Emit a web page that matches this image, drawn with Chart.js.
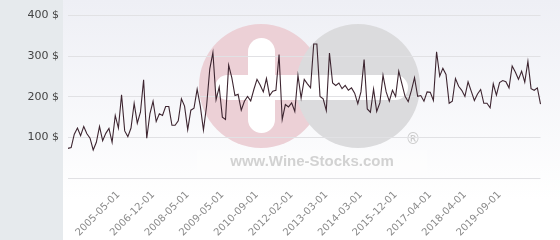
<!DOCTYPE html>
<html>
<head>
<meta charset="utf-8">
<script src="https://cdn.jsdelivr.net/npm/chart.js@4"></script>
<style>
  body { margin: 0; background: #fff; }
  canvas { display: block; }
</style>
</head>
<body>
<canvas id="pricecanvas" width="560" height="240"></canvas>
<script>
// prices in $, one per quote
var prices = [
	73, 75, 108, 123, 104, 127, 109, 98, 69, 88,
	127, 92, 110, 122, 88, 154, 123, 205, 116, 102,
	123, 184, 135, 162, 242, 98, 158, 189, 139, 158,
	154, 176, 176, 130, 130, 141, 195, 177, 119, 167,
	172, 219, 177, 118, 178, 268, 309, 193, 224, 150,
	144, 278, 247, 203, 206, 167, 189, 201, 190, 218,
	243, 229, 212, 245, 203, 214, 216, 304, 144, 181,
	175, 185, 164, 253, 197, 243, 232, 222, 330, 330,
	201, 195, 166, 308, 234, 228, 234, 220, 228, 216,
	222, 209, 183, 212, 292, 170, 162, 219, 164, 185,
	253, 212, 189, 216, 201, 263, 232, 201, 188, 215,
	247, 201, 203, 189, 212, 211, 191, 311, 251, 270,
	255, 184, 189, 245, 226, 216, 201, 237, 214, 191,
	207, 218, 184, 184, 173, 232, 204, 235, 240, 237,
	222, 276, 261, 243, 263, 236, 287, 220, 216, 222,
	182
];

// dates shown on the x axis and the quote they sit under
var tickDates = ['2005-05-01', '2006-12-01', '2008-05-01', '2009-05-01', '2010-09-01', '2012-02-01',
	'2013-03-01', '2014-03-01', '2015-12-01', '2017-04-01', '2018-04-01', '2019-09-01'];
var tickAt = [16, 27, 38, 49, 60, 71, 82, 93, 104, 115, 126, 137];

var yTicks = [0, 100, 200, 300, 400];

var labels = prices.map(function (p, i) {
	var k = tickAt.indexOf(i);
	return k >= 0 ? tickDates[k] : '';
});

// background panel + watermark
var backdrop = {
	id: 'backdrop',
	beforeDraw: function (chart) {
		var ctx = chart.ctx;
		ctx.save();
		var g = ctx.createLinearGradient(0, 0, 0, 200);
		g.addColorStop(0, '#eeeff5');
		g.addColorStop(1, '#ffffff');
		ctx.fillStyle = g;
		ctx.fillRect(63, 0, 497, 240);
		ctx.fillStyle = '#e6eaed';
		ctx.fillRect(0, 0, 63, 240);

		function pill(x, y, w, h) {
			var r = Math.min(w, h) / 2;
			ctx.beginPath();
			ctx.moveTo(x + r, y);
			ctx.arcTo(x + w, y, x + w, y + h, r);
			ctx.arcTo(x + w, y + h, x, y + h, r);
			ctx.arcTo(x, y + h, x, y, r);
			ctx.arcTo(x, y, x + w, y, r);
			ctx.closePath();
			ctx.fill();
		}
		ctx.fillStyle = '#ecd0d6';
		ctx.beginPath(); ctx.arc(261, 86, 62, 0, Math.PI * 2); ctx.fill();
		ctx.fillStyle = '#dbdbdd';
		ctx.beginPath(); ctx.arc(358, 86, 62, 0, Math.PI * 2); ctx.fill();
		ctx.fillStyle = '#ffffff';
		pill(248, 38, 27, 95);
		pill(215, 75, 193, 25);

		ctx.fillStyle = 'rgba(255,255,255,0.3)';
		ctx.fillRect(197, 150, 230, 29);
		ctx.fillStyle = '#d2d2d2';
		ctx.font = 'bold 15px "Liberation Sans", Arial, sans-serif';
		ctx.textAlign = 'center';
		ctx.textBaseline = 'alphabetic';
		ctx.fillText('www.Wine-Stocks.com', 312, 166);
		ctx.font = '15px "DejaVu Sans", sans-serif';
		ctx.fillStyle = '#cbcbcb';
		ctx.fillText('\u00AE', 413, 144);
		ctx.restore();
	}
};

Chart.defaults.font.family = '"DejaVu Sans", sans-serif';

window.onload = function () {
	var ctx = document.getElementById('pricecanvas').getContext('2d');
	window.priceChart = new Chart(ctx, {
		type: 'line',
		data: {
			labels: labels,
			datasets: [{
				label: 'Price',
				data: prices,
				borderColor: '#3d2530',
				borderWidth: 1.1,
				pointRadius: 0,
				tension: 0,
				fill: false
			}]
		},
		options: {
			responsive: false,
			animation: false,
			layout: { padding: { top: 6, right: 5, left: 0, bottom: 0 } },
			plugins: {
				legend: { display: false },
				tooltip: { enabled: false }
			},
			scales: {
				x: {
					offset: false,
					grid: { display: false, drawTicks: false },
					border: { display: false },
					ticks: {
						autoSkip: false,
						minRotation: 45,
						maxRotation: 45,
						padding: 11,
						color: '#8a8a8a',
						font: { size: 10 }
					},
					afterFit: function (s) { s.height = 62; }
				},
				y: {
					min: yTicks[0],
					max: yTicks[yTicks.length - 1],
					afterBuildTicks: function (s) {
						s.ticks = yTicks.map(function (v) { return { value: v }; });
					},
					grid: { color: '#e1e1e4', drawTicks: false },
					border: { display: false },
					ticks: {
						padding: 9,
						color: '#444444',
						font: { size: 11 },
						callback: function (v) { return v === 0 ? '' : v + ' $'; }
					},
					afterFit: function (s) { s.width = 68; }
				}
			}
		},
		plugins: [backdrop]
	});
};
</script>
</body>
</html>
